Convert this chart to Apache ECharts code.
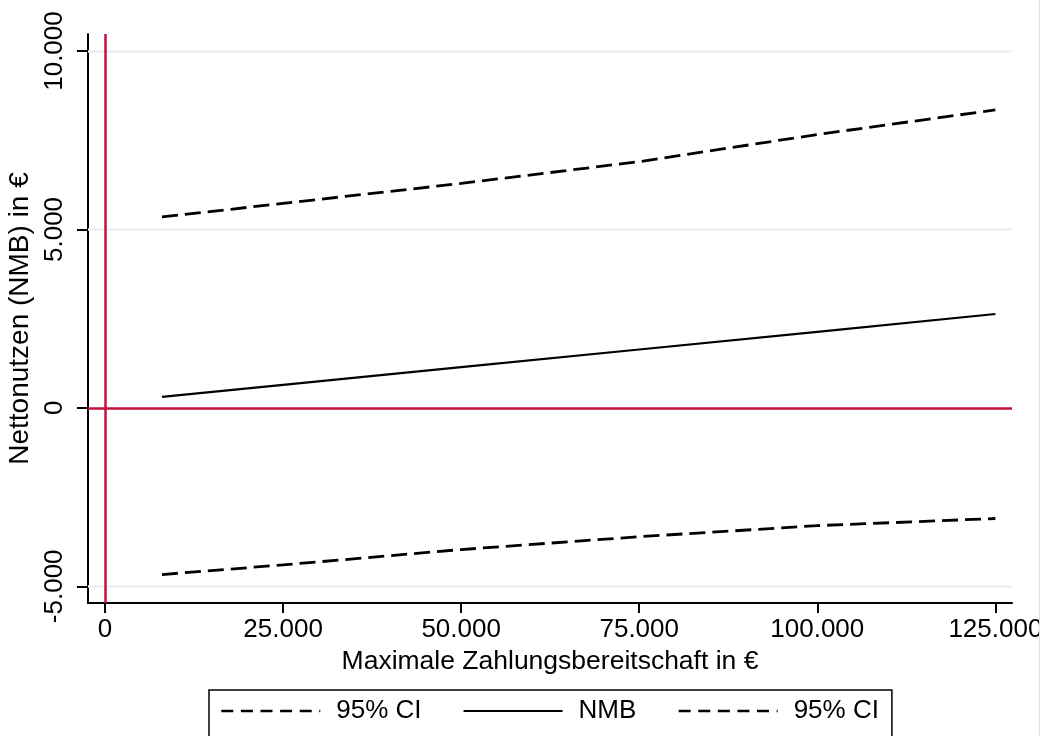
<!DOCTYPE html>
<html>
<head>
<meta charset="utf-8">
<script src="https://cdn.jsdelivr.net/npm/echarts@6/dist/echarts.min.js"></script>
<style>
  html, body { margin: 0; padding: 0; background: #fff; }
  #chart { width: 1045px; height: 736px; }
</style>
</head>
<body>
<div id="chart"></div>
<script>
// Maximale Zahlungsbereitschaft (WTP) in € and the net monetary benefit with its 95% interval
const wtp = [8000, 25000, 50000, 75000, 100000, 125000];
const nmb = [310, 645, 1140, 1635, 2130, 2630];
const ciUpper = [5350, 5730, 6290, 6900, 7660, 8350];
const ciLower = [-4670, -4400, -3970, -3610, -3300, -3100];

const xTicks = [0, 25000, 50000, 75000, 100000, 125000];
const yTicks = [-5000, 0, 5000, 10000];
const gridValues = [-5000, 5000, 10000];

const legendLabels = { ciUp: '95% CI', nmb: 'NMB', ciLow: '95% CI' };

const FONT = "'Liberation Sans', Arial, sans-serif";
const RED = '#c8103a';

// German thousands separator: 125000 -> 125.000
function fmt(v) {
  const s = String(Math.abs(Math.round(v))).replace(/\B(?=(\d{3})+(?!\d))/g, '.');
  return (v < 0 ? '-' : '') + s;
}
const pairs = ys => wtp.map((x, i) => [x, ys[i]]);

const chart = echarts.init(document.getElementById('chart'), null, { renderer: 'canvas' });

const dashedKey = { type: [12, 7.6], width: 2.6, color: '#000' };

chart.setOption({
  animation: false,
  backgroundColor: '#fff',
  textStyle: { fontFamily: FONT },
  grid: { left: 88, right: 33, top: 34, bottom: 133, containLabel: false, outerBoundsMode: 'none' },
  xAxis: {
    type: 'value',
    min: -2387,
    max: 127335,
    name: 'Maximale Zahlungsbereitschaft in €',
    nameLocation: 'middle',
    nameGap: 44,
    nameTextStyle: { fontSize: 26.5, color: '#000', fontFamily: FONT },
    axisLine: { show: true, onZero: false, lineStyle: { color: '#000', width: 2 } },
    axisTick: { show: true, customValues: xTicks, length: 10, lineStyle: { color: '#000', width: 2 } },
    axisLabel: {
      customValues: xTicks, formatter: fmt, margin: 14,
      fontSize: 26, color: '#000', fontFamily: FONT
    },
    splitLine: { show: false }
  },
  yAxis: {
    type: 'value',
    min: -5468,
    max: 10477,
    name: 'Nettonutzen (NMB) in €',
    nameLocation: 'middle',
    nameGap: 50,
    nameTextStyle: { fontSize: 28, color: '#000', fontFamily: FONT },
    axisLine: { show: true, onZero: false, lineStyle: { color: '#000', width: 2 } },
    axisTick: { show: true, customValues: yTicks, length: 11, lineStyle: { color: '#000', width: 2 } },
    axisLabel: {
      customValues: yTicks, formatter: fmt, margin: 20, rotate: 90,
      fontSize: 26, color: '#000', fontFamily: FONT
    },
    splitLine: { show: false }
  },
  legend: {
    data: [
      { name: 'ciUp', lineStyle: dashedKey },
      { name: 'nmb' },
      { name: 'ciLow', lineStyle: dashedKey }
    ],
    formatter: name => legendLabels[name],
    left: 209,
    top: 690,
    orient: 'horizontal',
    itemWidth: 99,
    itemHeight: 14,
    itemGap: 41,
    padding: [8, 13, 16, 11],
    borderColor: '#000',
    borderWidth: 1.5,
    borderRadius: 0,
    // keys show only the line pattern, no marker
    itemStyle: { opacity: 0, color: 'rgba(0,0,0,0)', borderWidth: 0 },
    textStyle: { fontSize: 26, color: '#000', fontFamily: FONT, padding: [0, 0, 0, 11] }
  },
  series: [
    {
      // reference lines: light grid, red zero lines
      name: 'grid',
      type: 'line',
      data: [],
      silent: true,
      z: 1,
      markLine: {
        silent: true,
        symbol: 'none',
        label: { show: false },
        emphasis: { disabled: true },
        data: [
          ...gridValues.map(v => ({ yAxis: v, lineStyle: { color: '#e8f0f2', width: 2.5, type: 'solid' } })),
          { yAxis: 0, lineStyle: { color: RED, width: 2.5, type: 'solid' } },
          { xAxis: 0, lineStyle: { color: RED, width: 2.5, type: 'solid' } }
        ]
      }
    },
    {
      name: 'ciUp',
      type: 'line',
      data: pairs(ciUpper),
      symbol: 'none',
      z: 3,
      color: '#000',
      lineStyle: { color: '#000', width: 2.8, type: [16, 7] }
    },
    {
      name: 'nmb',
      type: 'line',
      data: pairs(nmb),
      symbol: 'none',
      z: 3,
      color: '#000',
      lineStyle: { color: '#000', width: 2.2, type: 'solid' }
    },
    {
      name: 'ciLow',
      type: 'line',
      data: pairs(ciLower),
      symbol: 'none',
      z: 3,
      color: '#000',
      lineStyle: { color: '#000', width: 2.8, type: [16, 7] }
    }
  ],
  graphic: [
    { type: 'rect', z: 100, shape: { x: 1040, y: 0, width: 5, height: 736 }, style: { fill: '#fff' } },
    { type: 'line', z: 101, shape: { x1: 1039.5, y1: 0, x2: 1039.5, y2: 736 }, style: { stroke: '#e4e4e4', lineWidth: 1 } }
  ]
});
</script>
</body>
</html>
